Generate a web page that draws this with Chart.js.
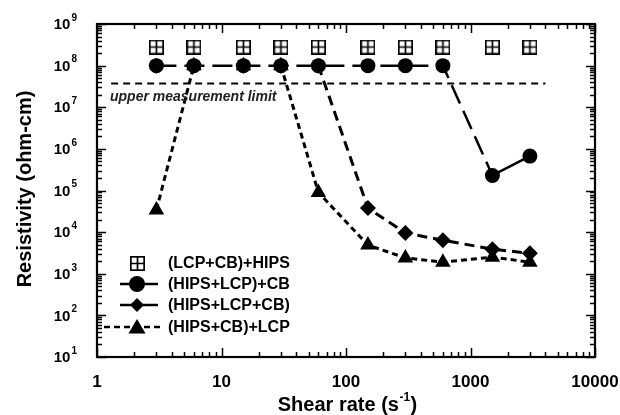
<!DOCTYPE html>
<html>
<head>
<meta charset="utf-8">
<script src="https://cdn.jsdelivr.net/npm/chart.js@4/dist/chart.umd.min.js"></script>
<style>
  html, body { margin: 0; padding: 0; background: #fff; }
  #wrap { width: 620px; height: 415px; }
</style>
</head>
<body>
<div id="wrap"><canvas id="resChart" width="620" height="415"></canvas></div>
<script>
// shear rates (1/s) and resistivity (ohm-cm) for each mixing sequence
const shearRate = [3, 6, 15, 30, 60, 150, 300, 600, 1500, 3000];
const resLcpCbHips = [2.8e8, 2.8e8, 2.8e8, 2.8e8, 2.8e8, 2.8e8, 2.8e8, 2.8e8, 2.8e8, 2.8e8];
const resHipsLcpThenCb = [1e8, 1e8, 1e8, 1e8, 1e8, 1e8, 1e8, 1e8, 2.3e5, 6.7e5];
const resOneStep = [1e8, 1e8, 1e8, 1e8, 1e8, 3.8e4, 9.5e3, 6.4e3, 3.9e3, 3.1e3];
const resHipsCbThenLcp = [3.4e4, 1e8, 1e8, 1e8, 9e4, 4.9e3, 2.4e3, 1.9e3, 2.5e3, 1.9e3];

// measurement ceiling of the meter
const limitRange = [1.3, 4000];
const limitValue = 3.7e7;
const saturated = 1e8;

const seriesNames = ['(LCP+CB)+HIPS', '(HIPS+LCP)+CB', '(HIPS+LCP+CB)', '(HIPS+CB)+LCP'];
const xTickValues = [1, 10, 100, 1000, 10000];
const yTickExponents = [1, 2, 3, 4, 5, 6, 7, 8, 9];

const FONT = '"Liberation Sans", Arial, Helvetica, sans-serif';

function pts(xs, ys) {
    return xs.map(function (x, i) { return { x: x, y: ys[i] }; });
}

// segments lying on the saturated plateau sit under the circles, keep them hidden
function plateauColor(c) {
    return (c.p0.parsed.y >= saturated && c.p1.parsed.y >= saturated) ? 'rgba(0,0,0,0)' : '#000';
}

// open square split in four, used as a point style
function boxCross(size) {
    var c = document.createElement('canvas');
    c.width = size; c.height = size;
    var g = c.getContext('2d');
    g.strokeStyle = '#000';
    g.lineWidth = 1.7;
    g.strokeRect(0.85, 0.85, size - 1.7, size - 1.7);
    g.beginPath();
    g.moveTo(size / 2, 1); g.lineTo(size / 2, size - 1);
    g.moveTo(1, size / 2); g.lineTo(size - 1, size / 2);
    g.stroke();
    return c;
}
var squareMark = boxCross(15);

function drawMarker(ctx, kind, x, y, r) {
    ctx.save();
    ctx.fillStyle = '#000';
    if (kind === 'square') {
        ctx.drawImage(squareMark, Math.round(x - 7.5), Math.round(y - 7.5));
    } else if (kind === 'circle') {
        ctx.beginPath(); ctx.arc(x, y, r, 0, Math.PI * 2); ctx.fill();
    } else if (kind === 'diamond') {
        ctx.beginPath();
        ctx.moveTo(x, y - r); ctx.lineTo(x + r, y); ctx.lineTo(x, y + r); ctx.lineTo(x - r, y);
        ctx.closePath(); ctx.fill();
    } else if (kind === 'triangle') {
        ctx.beginPath();
        ctx.moveTo(x, y - r); ctx.lineTo(x + r * 0.95, y + r * 0.6); ctx.lineTo(x - r * 0.95, y + r * 0.6);
        ctx.closePath(); ctx.fill();
    }
    ctx.restore();
}

function hline(ctx, x1, x2, y, dash) {
    ctx.save();
    ctx.strokeStyle = '#000';
    ctx.lineWidth = 2.5;
    ctx.setLineDash(dash);
    ctx.beginPath(); ctx.moveTo(x1, y); ctx.lineTo(x2, y); ctx.stroke();
    ctx.restore();
}

// frame, inward ticks on all sides, labels, titles and legend
var decorPlugin = {
    id: 'decor',
    afterDraw: function (chart) {
        var ctx = chart.ctx;
        var a = chart.chartArea;
        var xs = chart.scales.x, ys = chart.scales.y;
        ctx.save();
        ctx.strokeStyle = '#000';
        ctx.fillStyle = '#000';

        // minor / major ticks
        ctx.lineWidth = 1.5;
        ctx.beginPath();
        for (var d = 0; d <= 4; d++) {
            for (var k = 1; k <= 9; k++) {
                var v = k * Math.pow(10, d);
                if (v > 10000) break;
                var px = Math.round(xs.getPixelForValue(v)) + 0.5;
                var len = k === 1 ? 9 : 5;
                ctx.moveTo(px, a.bottom); ctx.lineTo(px, a.bottom - len);
                ctx.moveTo(px, a.top); ctx.lineTo(px, a.top + len);
            }
        }
        for (var e = 1; e <= 9; e++) {
            for (var m = 1; m <= 9; m++) {
                var vy = m * Math.pow(10, e);
                if (vy > 1e9) break;
                var py = Math.round(ys.getPixelForValue(vy)) + 0.5;
                var l2 = m === 1 ? 9 : 5;
                ctx.moveTo(a.left, py); ctx.lineTo(a.left + l2, py);
                ctx.moveTo(a.right, py); ctx.lineTo(a.right - l2, py);
            }
        }
        ctx.stroke();

        ctx.lineWidth = 2.2;
        ctx.strokeRect(a.left, a.top, a.right - a.left, a.bottom - a.top);

        // x tick labels
        ctx.font = 'bold 17px ' + FONT;
        ctx.textAlign = 'center';
        ctx.textBaseline = 'middle';
        xTickValues.forEach(function (t) {
            ctx.fillText(String(t), xs.getPixelForValue(t), 382);
        });

        // y tick labels as 10 with superscript exponent
        yTickExponents.forEach(function (ex) {
            var y = ys.getPixelForValue(Math.pow(10, ex));
            ctx.font = 'bold 10px ' + FONT;
            var ew = ctx.measureText(String(ex)).width;
            ctx.textAlign = 'left';
            ctx.fillText(String(ex), 77 - ew, y - 6);
            ctx.font = 'bold 15px ' + FONT;
            ctx.textAlign = 'right';
            ctx.fillText('10', 76 - ew, y + 1);
        });

        // axis titles
        ctx.font = 'bold 20px ' + FONT;
        ctx.textAlign = 'left';
        ctx.textBaseline = 'alphabetic';
        var t1 = 'Shear rate (s', t2 = '-1', t3 = ')';
        var w1 = ctx.measureText(t1).width;
        ctx.font = 'bold 12px ' + FONT;
        var w2 = ctx.measureText(t2).width;
        ctx.font = 'bold 20px ' + FONT;
        var w3 = ctx.measureText(t3).width;
        var sx = 347 - (w1 + w2 + w3) / 2;
        ctx.fillText(t1, sx, 411);
        ctx.font = 'bold 12px ' + FONT;
        ctx.fillText(t2, sx + w1 + 0.5, 401);
        ctx.font = 'bold 20px ' + FONT;
        ctx.fillText(t3, sx + w1 + w2 + 1, 411);

        ctx.save();
        ctx.translate(31, 189);
        ctx.rotate(-Math.PI / 2);
        ctx.textAlign = 'center';
        ctx.fillText('Resistivity (ohm-cm)', 0, 0);
        ctx.restore();

        // limit annotation
        ctx.font = 'italic bold 14px ' + FONT;
        ctx.fillStyle = '#222';
        ctx.textAlign = 'left';
        ctx.fillText('upper measurement limit', 110, 101);

        // legend
        ctx.fillStyle = '#000';
        var rows = [263, 284, 305, 327];
        var sym = 137;
        drawMarker(ctx, 'square', sym, rows[0], 0);
        hline(ctx, 120, 158, rows[1], []);
        drawMarker(ctx, 'circle', sym, rows[1], 8);
        hline(ctx, 120, 158, rows[2], []);
        drawMarker(ctx, 'diamond', sym, rows[2], 7);
        hline(ctx, 104, 162, rows[3], [6, 4]);
        drawMarker(ctx, 'triangle', sym, rows[3] + 1, 9);
        ctx.font = 'bold 16px ' + FONT;
        ctx.textBaseline = 'middle';
        ctx.textAlign = 'left';
        seriesNames.forEach(function (name, i) {
            ctx.fillText(name, 168, rows[i] + 1);
        });
        ctx.restore();
    }
};

new Chart(document.getElementById('resChart'), {
    type: 'line',
    data: {
        datasets: [
            {
                label: seriesNames[0],
                data: pts(shearRate, resLcpCbHips),
                showLine: false,
                pointStyle: squareMark,
                pointRadius: 8,
                borderColor: '#000',
                backgroundColor: '#000'
            },
            {
                label: seriesNames[1],
                data: pts(shearRate, resHipsLcpThenCb),
                borderColor: '#000',
                backgroundColor: '#000',
                borderWidth: 2.5,
                pointStyle: 'circle',
                pointRadius: 7.5,
                pointBorderWidth: 0,
                segment: {
                    borderDash: function (c) { return c.p1DataIndex === 9 ? [] : [20, 8]; }
                }
            },
            {
                label: seriesNames[2],
                data: pts(shearRate, resOneStep),
                borderColor: '#000',
                backgroundColor: '#000',
                borderWidth: 3,
                borderDash: [10, 6],
                pointStyle: 'rectRot',
                pointRadius: 8,
                pointBorderWidth: 0,
                segment: { borderColor: plateauColor }
            },
            {
                label: seriesNames[3],
                data: pts(shearRate, resHipsCbThenLcp),
                borderColor: '#000',
                backgroundColor: '#000',
                borderWidth: 3,
                borderDash: [6, 4],
                pointStyle: 'triangle',
                pointRadius: 9,
                pointBorderWidth: 0,
                segment: { borderColor: plateauColor }
            },
            {
                label: 'limit',
                data: pts(limitRange, [limitValue, limitValue]),
                borderColor: '#000',
                borderWidth: 2,
                borderDash: [7, 5],
                pointRadius: 0
            }
        ]
    },
    options: {
        responsive: false,
        animation: false,
        layout: { padding: { left: 97, right: 25, top: 24, bottom: 58 } },
        plugins: { legend: { display: false }, tooltip: { enabled: false } },
        scales: {
            x: { type: 'logarithmic', min: 1, max: 10000, display: false },
            y: { type: 'logarithmic', min: 10, max: 1e9, display: false }
        }
    },
    plugins: [decorPlugin]
});
</script>
</body>
</html>
